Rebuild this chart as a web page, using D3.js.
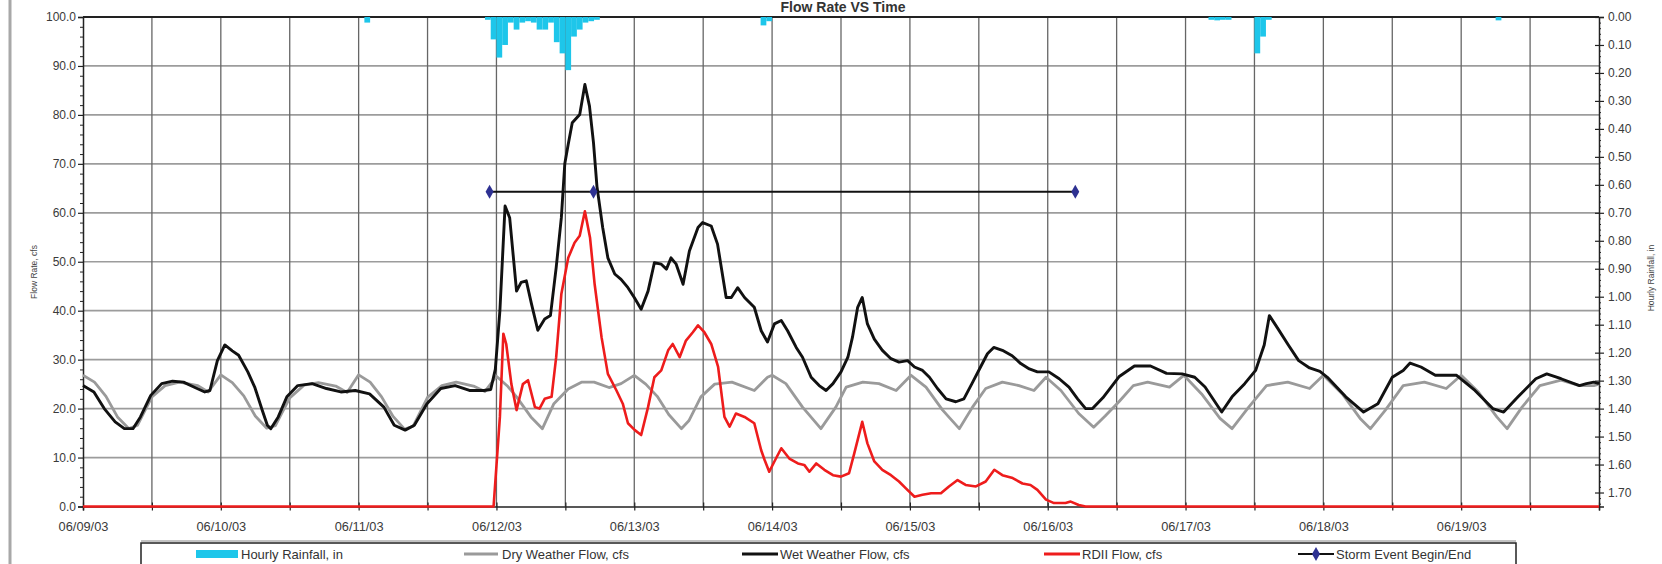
<!DOCTYPE html>
<html><head><meta charset="utf-8">
<script src="https://cdn.jsdelivr.net/npm/d3@7"></script>
<style>
body{margin:0;background:#fff;}
svg{display:block;font-family:"Liberation Sans",Arial,sans-serif;}
</style>
</head><body>
<svg id="c" width="1662" height="564"></svg>
<script>
// ---------- DATA (hours from 06/09/03 00:00) ----------
const dayLabels = ["06/09/03","06/10/03","06/11/03","06/12/03","06/13/03","06/14/03","06/15/03","06/16/03","06/17/03","06/18/03","06/19/03"];
const flowTicks = [0,10,20,30,40,50,60,70,80,90,100];
const rainTicks = [0,0.1,0.2,0.3,0.4,0.5,0.6,0.7,0.8,0.9,1.0,1.1,1.2,1.3,1.4,1.5,1.6,1.7];
const seriesNames = ["Hourly Rainfall, in","Dry Weather Flow, cfs","Wet Weather Flow, cfs","RDII Flow, cfs","Storm Event Begin/End"];

const hourlyRainfall = [[49,0.02],[70,0.01],[71,0.08],[72,0.145],[73,0.1],[74,0.02],[75,0.045],[76,0.02],[77,0.015],[78,0.02],[79,0.045],[80,0.045],[81,0.02],[82,0.09],[83,0.13],[84,0.19],[85,0.07],[86,0.045],[87,0.02],[88,0.015],[89,0.01],[118,0.03],[119,0.015],[196,0.01],[197,0.012],[198,0.01],[199,0.01],[204,0.13],[205,0.07],[206,0.01],[246,0.012]];

const dryWeatherFlow = [[0,26.8],[2,25.4],[4,22.5],[6,18.3],[8,15.9],[9.5,16.6],[12,22.4],[14.3,24.7],[16.8,25.4],[20,24.7],[21.8,23.4],
[24,26.9],[26,25.3],[28,22.6],[30,18.5],[32,16.0],[33.5,16.5],[36,22.2],[38.5,24.8],[41,25.3],[44,24.6],[46,23.3],
[48,26.9],[50,25.4],[52,22.4],[54,18.4],[56,15.8],[57.5,16.4],[60,22.3],[62.5,24.7],[65,25.4],[68,24.6],[70,23.5],
[72,26.6],[74,24.5],[75.5,22.4],[78,18.3],[80,15.9],[82,21],[84.5,24],[86.8,25.4],[89,25.4],[91.6,24.3],[93.7,25.1],
[96,26.8],[98,25],[100,22.5],[102,18.8],[104.2,15.9],[105.5,17.5],[107.6,22.4],[110,25],[113,25.4],[116.9,23.7],[119.2,26.4],
[120,26.8],[122.4,25.1],[125.3,20.3],[128.5,15.9],[131.1,20.3],[132.9,24.4],[135.8,25.4],[138.6,25.1],[141.6,23.7],
[144.2,26.8],[146.8,24.4],[149.7,19.7],[152.6,15.9],[154.9,20.3],[157.2,24.1],[160.1,25.4],[163,24.7],[165.6,23.7],
[167.7,26.4],[170.3,23.7],[173.4,19],[176,16.2],[178,18.5],[180.4,21.4],[182.9,24.7],[185.4,25.4],[189.2,24.4],
[191.7,26.8],[194.8,23],[198,18],[200.1,15.9],[203,20.3],[206.1,24.7],[209.8,25.4],[213.6,24.1],
[216,26.8],[219.3,23],[222.4,18],[224.2,15.9],[226.8,19.7],[229.9,24.7],[233.6,25.4],[237.4,24.1],
[240,26.8],[243,23.4],[246.2,18.3],[248,15.9],[250.6,20.3],[253.7,24.7],[257.4,25.8],[260.6,24.7],[263.1,24.7],[264,25]];

const wetWeatherFlow = [[0,24.7],[1.9,23.4],[3.7,20],[5.6,17.3],[7.2,15.9],[8.7,15.9],[10,18.3],[11.8,22.7],[13.7,25.1],[15.6,25.6],[17.5,25.4],[19.3,24.4],[21.2,23.4],[22.1,23.7],[23.4,29.8],[24.7,33],[26,31.8],[27.1,30.9],[28.7,27.5],[29.9,24.4],[31.2,19.7],[32.1,16.6],[32.7,15.9],[34,18.3],[35.5,22.4],[37.4,24.7],[39.9,25.1],[42.4,24.1],[44.9,23.4],[47.4,23.7],[49.9,23],[52.4,20.3],[54.2,16.6],[56.1,15.6],[57.7,16.6],[59.9,21],[62.3,24.1],[64.8,24.7],[67.3,23.7],[69.8,23.7],[71,23.9],[71.8,28],[72.6,40],[73.5,61.4],[74.3,59],[75.5,44],[76.3,45.8],[77.2,46.1],[78.1,41.4],[79.2,36],[80.4,38.3],[81.4,39],[82.4,48.8],[83.3,59],[83.9,70],[84.5,74],[85.2,78.4],[86.5,80.1],[87.4,86.2],[88.2,81.8],[88.9,74.3],[89.5,65.4],[90.5,57],[91.4,50.8],[92.6,47.5],[93.7,46.4],[94.9,44.7],[96,42.7],[97.2,40.3],[98.4,44],[99.5,49.8],[100.7,49.5],[101.6,48.5],[102.4,50.8],[103.3,49.5],[104.5,45.4],[105.6,52.2],[107.1,57],[107.9,58],[109.4,57.3],[110.5,53.6],[112,42.7],[112.9,42.7],[114,44.7],[115.2,42.7],[116.9,40.7],[118.1,35.9],[119.2,33.6],[120.4,37.3],[121.6,38],[122.7,35.9],[124.2,32.5],[125.3,30.5],[126.8,26.4],[128.2,24.7],[129.4,23.7],[130.6,25.1],[132,27.5],[133.2,30.5],[134,34.6],[134.9,40.7],[135.7,42.7],[136.6,37.3],[137.8,34.2],[139.2,31.9],[140.7,30.2],[142.1,29.5],[143.6,29.8],[144.8,28.5],[146.2,27.8],[147.4,26.4],[148.8,24.1],[150.3,22],[152,21.4],[153.4,22],[154.8,25.1],[156.3,28.5],[157.5,31.2],[158.6,32.5],[160.1,31.9],[161.8,30.8],[163.3,29.2],[164.8,28.1],[166.2,27.5],[168.2,27.5],[170,26.1],[171.7,24.4],[173.2,22],[174.6,20],[175.8,20],[177.6,22.2],[180.4,26.5],[183.1,28.7],[185.9,28.7],[188.7,27.2],[191.4,27.1],[193.6,26.4],[195.4,24.4],[198.3,19.3],[200.1,22.4],[202.3,25.1],[204.2,27.8],[205.7,33],[206.6,39],[208,36.5],[209.9,33],[211.7,29.8],[213.6,28.3],[215.4,27.6],[216.7,26.4],[219.9,22.4],[223,19.3],[225.5,21],[228,26.4],[229.9,27.8],[231.1,29.3],[233,28.5],[235.5,26.8],[239.2,26.8],[242.4,23.7],[245.5,20],[247.4,19.3],[249.9,22.4],[253,26.1],[254.9,27.1],[257.4,26.1],[260.6,24.7],[261.8,25.1],[263.1,25.4],[264,25.1]];

const rdiiFlow = [[0,0],[71.5,0],[72.6,18.3],[73.2,35.3],[73.7,33.2],[74.6,25],[75.5,19.7],[76.6,25],[77.5,25.8],[78.7,20.3],[79.5,20],[80.4,22],[81.6,22.4],[82.4,30.5],[83.3,43.4],[84.5,50.8],[85.6,53.9],[86.5,55.3],[87.4,60.3],[88.3,54.9],[89.1,45.4],[90.3,34.6],[91.4,27.1],[92.9,23.7],[94,21],[94.9,17],[96.1,15.6],[97.2,14.6],[98.4,20.3],[99.5,26.4],[100.7,27.8],[101.9,31.9],[102.7,33.2],[103.9,30.5],[105,33.9],[106.2,35.6],[107.1,37],[108.2,35.6],[109.4,33.2],[110.6,28.5],[111.7,18.3],[112.6,16.3],[113.7,19],[115.2,18.3],[116.9,17],[118.1,11.5],[118.7,9.5],[119.5,7.1],[120.4,9.2],[121.6,11.9],[123,9.8],[124.5,8.8],[125.6,8.5],[126.5,7.1],[127.7,8.8],[129.1,7.5],[130.6,6.4],[132,6.1],[133.4,6.8],[134.3,10.8],[135.7,17.3],[136.6,12.9],[137.8,9.2],[139.2,7.5],[140.7,6.4],[142.1,5.1],[143.3,3.7],[144.8,2],[146.2,2.4],[147.7,2.7],[149.4,2.7],[150.8,4.1],[152.3,5.4],[153.7,4.4],[155.5,4.1],[157.2,5.1],[158.7,7.5],[160.1,6.4],[161.9,5.8],[163.6,4.7],[165,4.4],[166.2,3.4],[167.7,1.4],[169.1,0.7],[171.1,0.7],[172,1],[173.4,0.3],[174.6,0],[264,0]];

const stormEvent = [[70.8,64.3],[88.9,64.3],[172.8,64.3]];

// ---------- LAYOUT ----------
const svg = d3.select("#c");
const L = 83, R = 1599, T = 17, B = 506.5;
const x = d3.scaleLinear().domain([0,264]).range([L,R]);
const yL = d3.scaleLinear().domain([0,100]).range([B,T]);
const yR = d3.scaleLinear().domain([0,1.75]).range([T,B]);

// left border strip
svg.append("line").attr("x1",10).attr("x2",10).attr("y1",0).attr("y2",564).attr("stroke","#a8a8a8").attr("stroke-width",3);

// gridlines
const gx = d3.range(12,264,12);
svg.append("g").selectAll("line").data(flowTicks.filter(d=>d>0&&d<100)).join("line")
  .attr("x1",L).attr("x2",R).attr("y1",d=>yL(d)).attr("y2",d=>yL(d))
  .attr("stroke","#9c9c9c").attr("stroke-width",1.7);
svg.append("g").selectAll("line").data(gx).join("line")
  .attr("x1",d=>x(d)).attr("x2",d=>x(d)).attr("y1",T).attr("y2",B)
  .attr("stroke","#666").attr("stroke-width",1.3);

// frame top
svg.append("line").attr("x1",L).attr("x2",R).attr("y1",T).attr("y2",T).attr("stroke","#222").attr("stroke-width",1.8);

// rainfall bars (hanging from top on reversed right axis)
svg.append("g").selectAll("rect").data(hourlyRainfall).join("rect")
  .attr("x",d=>x(d[0])).attr("width",d=>x(d[0]+1)-x(d[0]))
  .attr("y",yR(0)).attr("height",d=>yR(d[1])-yR(0))
  .attr("fill","#1ec6ea");

// axes
const fmt1 = d3.format(".1f"), fmt2 = d3.format(".2f");
const axL = svg.append("g").attr("transform",`translate(${L},0)`)
  .call(d3.axisLeft(yL).tickValues(flowTicks).tickFormat(fmt1).tickSize(5).tickPadding(2));
svg.append("g").attr("transform",`translate(${L},0)`)
  .call(d3.axisLeft(yL).tickValues(d3.range(0,100,2).filter(d=>d%10!==0)).tickFormat("").tickSize(3))
  .call(g=>g.select(".domain").remove());
const axR = svg.append("g").attr("transform",`translate(${R},0)`)
  .call(d3.axisRight(yR).tickValues(rainTicks).tickFormat(fmt2).tickSize(5).tickPadding(4));
axR.selectAll(".tick line").attr("x1",-4);
svg.append("g").attr("transform",`translate(${R},0)`)
  .call(d3.axisRight(yR).tickValues(d3.range(0.02,1.75,0.02).filter(d=>Math.abs(d*10-Math.round(d*10))>0.01)).tickFormat("").tickSize(2))
  .call(g=>g.select(".domain").remove());
const axB = svg.append("g").attr("transform",`translate(0,${B})`)
  .call(d3.axisBottom(x).tickValues(d3.range(0,265,12)).tickFormat(d=> d%24===0 && d/24<dayLabels.length ? dayLabels[d/24] : "").tickSize(4).tickPadding(11));
axB.selectAll(".tick line").attr("y1",-4);

[axL,axR,axB].forEach(a=>{
  a.select(".domain").attr("stroke","#222").attr("stroke-width",1.5);
  a.selectAll(".tick line").attr("stroke","#222").attr("stroke-width",1.2);
  a.selectAll("text").attr("font-size",12).attr("fill","#3a3a3a").attr("font-family","Liberation Sans, Arial, sans-serif");
});
axB.selectAll("text").attr("font-size",12.8);
svg.selectAll(".tick line").attr("stroke","#222");

// lines
const line = d3.line().x(d=>x(d[0])).y(d=>yL(d[1]));
svg.append("path").datum(dryWeatherFlow).attr("d",line).attr("fill","none").attr("stroke","#9a9a9a").attr("stroke-width",2.8).attr("stroke-linejoin","round");
svg.append("path").datum(wetWeatherFlow).attr("d",line).attr("fill","none").attr("stroke","#111").attr("stroke-width",2.9).attr("stroke-linejoin","round");
svg.append("path").datum(rdiiFlow).attr("d",line).attr("fill","none").attr("stroke","#ee1c1c").attr("stroke-width",2.6).attr("stroke-linejoin","round");
svg.append("path").datum(stormEvent).attr("d",line).attr("fill","none").attr("stroke","#111").attr("stroke-width",2.2);
const diamond = d3.symbol().type(d3.symbolDiamond).size(55);
svg.append("g").selectAll("path").data(stormEvent).join("path")
  .attr("d",diamond).attr("transform",d=>`translate(${x(d[0])},${yL(d[1])})`)
  .attr("fill","#2e3192");

// titles
svg.append("text").attr("x",843).attr("y",12).attr("text-anchor","middle").attr("font-size",14).attr("font-weight","bold").attr("fill","#333").text("Flow Rate VS Time");
svg.append("text").attr("transform","translate(37,272) rotate(-90)").attr("text-anchor","middle").attr("font-size",8.5).attr("fill","#444").text("Flow Rate, cfs");
svg.append("text").attr("transform","translate(1654,278) rotate(-90)").attr("text-anchor","middle").attr("font-size",8.5).attr("fill","#444").text("Hourly Rainfall, in");

// legend
const lg = svg.append("g");
lg.append("line").attr("x1",141).attr("x2",1516).attr("y1",541).attr("y2",541).attr("stroke","#888").attr("stroke-width",1.2);
lg.append("rect").attr("x",141).attr("y",543).attr("width",1375).attr("height",40).attr("fill","#fff").attr("stroke","#222").attr("stroke-width",1.5);
const legX = [196,464,742,1044,1298];
const ly = 554;
lg.append("rect").attr("x",legX[0]).attr("y",ly-4).attr("width",42).attr("height",8).attr("fill","#1ec6ea");
lg.append("line").attr("x1",legX[1]).attr("x2",legX[1]+34).attr("y1",ly).attr("y2",ly).attr("stroke","#9a9a9a").attr("stroke-width",3);
lg.append("line").attr("x1",legX[2]).attr("x2",legX[2]+36).attr("y1",ly).attr("y2",ly).attr("stroke","#111").attr("stroke-width",3);
lg.append("line").attr("x1",legX[3]).attr("x2",legX[3]+36).attr("y1",ly).attr("y2",ly).attr("stroke","#ee1c1c").attr("stroke-width",3);
lg.append("line").attr("x1",legX[4]).attr("x2",legX[4]+36).attr("y1",ly).attr("y2",ly).attr("stroke","#111").attr("stroke-width",2.2);
lg.append("path").attr("d",diamond).attr("transform",`translate(${legX[4]+18},${ly})`).attr("fill","#2e3192");
lg.selectAll("text.lt").data(seriesNames).join("text").attr("class","lt")
  .attr("x",(d,i)=>legX[i]+(i===0?45:38)).attr("y",ly+4.5).attr("font-size",13).attr("fill","#333").text(d=>d);
</script>
</body></html>
